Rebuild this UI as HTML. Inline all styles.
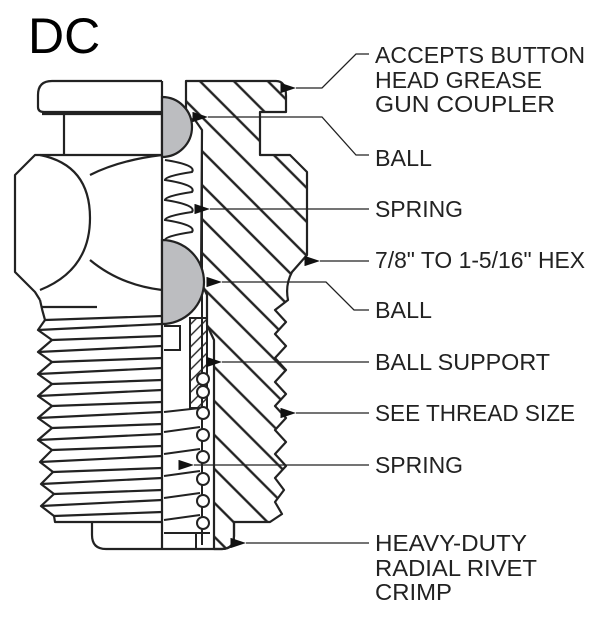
<!DOCTYPE html>
<html><head><meta charset="utf-8"><style>
html,body{margin:0;padding:0;background:#fff;width:600px;height:638px;overflow:hidden}
text{font-family:"Liberation Sans",sans-serif;fill:#222}
</style></head><body>
<svg width="600" height="638" viewBox="0 0 600 638" xmlns="http://www.w3.org/2000/svg">
<defs>
<pattern id="h" width="24" height="24" patternUnits="userSpaceOnUse" patternTransform="rotate(-45)">
<line x1="12" y1="0" x2="12" y2="24" stroke="#222" stroke-width="2.4"/>
</pattern>
<pattern id="h2" width="8" height="8" patternUnits="userSpaceOnUse" patternTransform="rotate(45)">
<line x1="4" y1="0" x2="4" y2="8" stroke="#222" stroke-width="1.4"/>
</pattern>
<marker id="a" markerWidth="12" markerHeight="8" refX="0" refY="4" orient="auto">
<path d="M0,4 L12,0 L12,8 Z" fill="#111"/></marker>
</defs>
<text x="28" y="53" font-size="50" style="fill:#000">DC</text>

<g stroke="#222" stroke-width="2.2" fill="none" stroke-linejoin="round">
<path d="M162,81 L52,81 Q38,81 38,95 L38,107 Q38,112 44,112 L162,112"/>
<line x1="42" y1="114" x2="162" y2="114"/>
<line x1="64" y1="114" x2="64" y2="155"/>
<path d="M162,155 L35,155 L15,175 L15,272 L35,292 L40,300"/>
<path d="M40,155 Q90,165 90,218 Q90,270 40,290"/>
<path d="M90,175 Q120,160 162,155 M90,260 Q120,285 162,290"/>
<line x1="42" y1="307" x2="97" y2="307"/>
<path d="M40,300 Q42,310 45,320 L38,330 L52,340 L38,352 L52,362 L38,374 L52,384 L38,396 L52,406 L38,418 L52,428 L38,440 L52,450 L40,462 L53,472 L41,484 L54,494 L41,506 L54,516 L55,522 L162,522"/>
<path d="M45,320 L162,316 M38,330 L162,324 M52,340 L162,336 M38,352 L162,346 M52,362 L162,358 M38,374 L162,368 M52,384 L162,380 M38,396 L162,390 M52,406 L162,402 M38,418 L162,412 M52,428 L162,424 M38,440 L162,434 M52,450 L162,446 M40,462 L162,456 M53,472 L162,468 M41,484 L162,478 M54,494 L162,490 M41,506 L162,500 M54,516 L162,512"/>
<path d="M92,522 L92,535 Q92,549 106,549 L222,549 Q234,549 234,536 L234,522"/>
<line x1="162" y1="81" x2="162" y2="549"/>
</g>

<path d="M186,81 L276,81 Q286,81 286,96 L286,112 L260,112 L260,155 L290,155 L307,172 L307,255 L292,272 Q285,285 288,300 L275,310 L286,322 L275,334 L286,346 L275,358 L286,370 L275,382 L286,394 L275,406 L286,418 L275,430 L286,442 L275,454 L286,466 L275,478 L284,490 L275,502 L282,514 L270,522 L234,522 L234,536 Q234,549 222,549 L214,549 L214,340 L207,325 L207,295 L201,282 L202,130 L195,120 L186,118 Z" fill="url(#h)" stroke="#222" stroke-width="2.2" stroke-linejoin="round"/>
<line x1="202" y1="130" x2="202" y2="545" stroke="#222" stroke-width="2"/>
<path d="M162,97 A30,30 0 0 1 162,157 Z" fill="#bcbdc0" stroke="#222" stroke-width="2.2"/>
<path d="M162,240 A42,42 0 0 1 162,324 Z" fill="#bcbdc0" stroke="#222" stroke-width="2.2"/>
<path d="M165,160 Q197,165 192,172 Q165,176 165,180 Q197,185 192,192 Q165,196 165,200 Q197,205 192,212 Q165,216 165,220 Q197,225 192,232 Q165,236 165,240" fill="none" stroke="#222" stroke-width="2"/>
<rect x="190" y="318" width="17" height="90" fill="url(#h2)" stroke="#222" stroke-width="2"/>
<path d="M164,326 L180,326 L180,350 L164,350" fill="none" stroke="#222" stroke-width="2"/>
<g stroke="#222" stroke-width="2" fill="#fff">
<path d="M164,412 L200,408 M164,432 L200,427 M164,454 L200,449 M164,476 L200,471 M164,498 L200,493 M164,520 L200,515" fill="none"/>
<circle cx="203" cy="379" r="6"/><circle cx="203" cy="392" r="6"/>
<circle cx="203" cy="413" r="6"/><circle cx="203" cy="435" r="6"/>
<circle cx="203" cy="457" r="6"/><circle cx="203" cy="479" r="6"/>
<circle cx="203" cy="501" r="6"/><circle cx="203" cy="523" r="6"/>
<path d="M164,533 L210,533 M196,533 L196,549" fill="none"/>
</g>

<g stroke="#222" stroke-width="1.3" fill="none">
<path d="M369,54 L356,54 L322,88 L296,88" marker-end="url(#a)"/>
<path d="M369,155 L356,155 L322,117 L208,117" marker-end="url(#a)"/>
<path d="M369,209 L210,209" marker-end="url(#a)"/>
<path d="M369,261 L320,261" marker-end="url(#a)"/>
<path d="M369,310 L354,310 L326,282 L222,282" marker-end="url(#a)"/>
<path d="M369,362 L222,362" marker-end="url(#a)"/>
<path d="M369,413 L296,413" marker-end="url(#a)"/>
<path d="M369,465 L194,465" marker-end="url(#a)"/>
<path d="M369,543 L246,543" marker-end="url(#a)"/>
</g>
<g font-size="23">
<text x="375" y="63" textLength="210" lengthAdjust="spacingAndGlyphs">ACCEPTS BUTTON</text>
<text x="375" y="88" textLength="167" lengthAdjust="spacingAndGlyphs">HEAD GREASE</text>
<text x="375" y="112" textLength="180" lengthAdjust="spacingAndGlyphs">GUN COUPLER</text>
<text x="375" y="166" textLength="57" lengthAdjust="spacingAndGlyphs">BALL</text>
<text x="375" y="217" textLength="88" lengthAdjust="spacingAndGlyphs">SPRING</text>
<text x="375" y="268" textLength="210" lengthAdjust="spacingAndGlyphs">7/8" TO 1-5/16" HEX</text>
<text x="375" y="318" textLength="57" lengthAdjust="spacingAndGlyphs">BALL</text>
<text x="375" y="370" textLength="175" lengthAdjust="spacingAndGlyphs">BALL SUPPORT</text>
<text x="375" y="421" textLength="200" lengthAdjust="spacingAndGlyphs">SEE THREAD SIZE</text>
<text x="375" y="473" textLength="88" lengthAdjust="spacingAndGlyphs">SPRING</text>
<text x="375" y="551" textLength="152" lengthAdjust="spacingAndGlyphs">HEAVY-DUTY</text>
<text x="375" y="576" textLength="162" lengthAdjust="spacingAndGlyphs">RADIAL RIVET</text>
<text x="375" y="600" textLength="77" lengthAdjust="spacingAndGlyphs">CRIMP</text>
</g>
</svg>
</body></html>
